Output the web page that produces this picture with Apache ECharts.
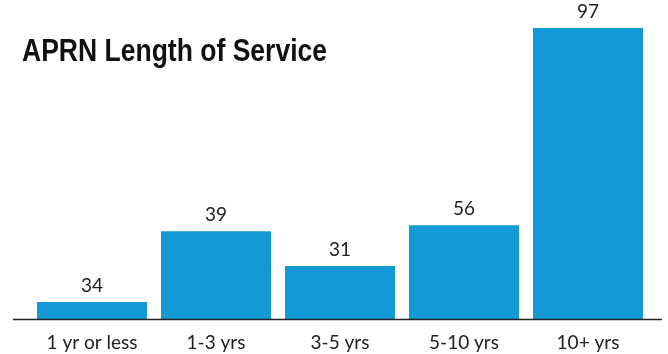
<!DOCTYPE html>
<html><head><meta charset="utf-8">
<script src="https://cdn.jsdelivr.net/npm/echarts@6/dist/echarts.min.js"></script>
<style>html,body{margin:0;padding:0;background:#fff}#c{width:668px;height:354px}</style>
</head><body><div id="c"></div>
<script>
const categories = ['1 yr or less', '1-3 yrs', '3-5 yrs', '5-10 yrs', '10+ yrs'];
// values printed above the bars
const labelValues = [34, 39, 31, 56, 97];
// bar lengths as drawn in the reference (not proportional to printed values), scaled so tallest = 97
const drawnLengths = [5.8, 29.4, 17.8, 31.4, 97];
const titleText = 'APRN Length of Service';

const titleFont = 'bold 31px "Liberation Sans", Arial, sans-serif';
const cv = document.createElement('canvas').getContext('2d');
cv.font = titleFont;
const titleScale = 305 / cv.measureText(titleText).width;

const chart = echarts.init(document.getElementById('c'), null, {renderer: 'canvas'});
chart.setOption({
  animation: false,
  backgroundColor: '#fff',
  grid: {left: 30, right: 18, top: 28, bottom: 34.5, containLabel: false},
  xAxis: {
    type: 'category', data: categories,
    axisLine: {show: false}, axisTick: {show: false},
    axisLabel: {fontFamily: 'Lato', fontSize: 19, color: '#222', margin: 14}
  },
  yAxis: {type: 'value', min: 0, max: 97, show: false, splitLine: {show: false}},
  series: [{
    type: 'bar', data: drawnLengths, barWidth: 110,
    itemStyle: {color: '#1399D6'},
    label: {
      show: true, position: 'top', distance: 7,
      fontFamily: 'Lato', fontSize: 19, color: '#222',
      formatter: p => String(labelValues[p.dataIndex])
    }
  }],
  graphic: [{
    type: 'line', shape: {x1: 13, y1: 319.5, x2: 662, y2: 319.5},
    style: {stroke: '#222', lineWidth: 1.5}, z: 100
  }, {
    type: 'text', x: 22, y: 52, scaleX: titleScale, z: 100,
    style: {text: titleText, font: titleFont, fill: '#111', verticalAlign: 'middle', align: 'left'}
  }]
});
</script></body></html>
